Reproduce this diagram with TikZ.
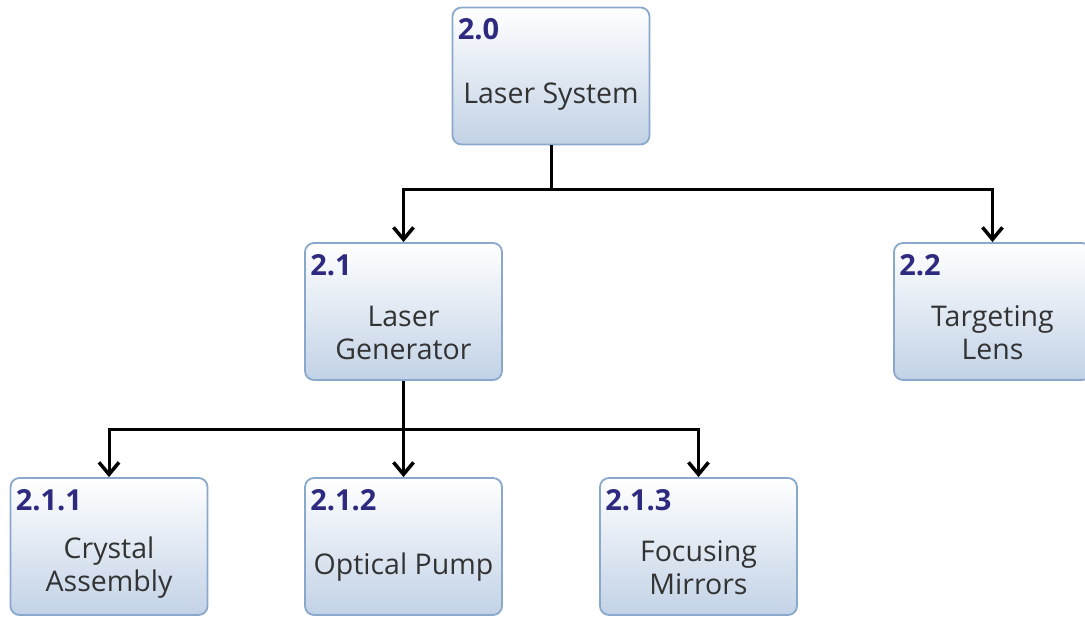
\documentclass[tikz,border=0pt]{standalone}
\usepackage{fontspec}
\setmainfont{Open Sans}
\usetikzlibrary{arrows.meta,calc}
\definecolor{idblue}{HTML}{2E2A80}
\definecolor{boxborder}{HTML}{8AA8CC}
\definecolor{boxbottom}{HTML}{C2D2E6}
\definecolor{txt}{HTML}{333333}
\tikzset{
  wbs/.style={draw=boxborder, line width=1.8pt, rounded corners=9pt,
    top color=white, bottom color=boxbottom,
    minimum width=197pt, minimum height=137pt, inner sep=0pt},
  idtext/.style={anchor=base west, text=idblue, inner sep=0pt,
    font=\fontsize{29}{32}\selectfont\bfseries},
  lbl/.style={text=txt, align=center, inner sep=0pt,
    font=\fontsize{28.5}{33}\selectfont},
  link/.style={line width=3pt, draw=black},
  conn/.style={link, -{Straight Barb[length=12pt,width=20pt,line width=3.5pt]}}
}
\newcommand{\wbsbox}[5]{% name, x, y, id, label
  \node[wbs] (#1) at (#2,#3) {};
  \node[idtext] (#1id) at ($(#1.north west)+(6,33)$) {#4};
  \node[lbl] (#1lbl) at ($(#1.center)+(0,21)$) {#5};
}
\begin{document}
\begin{tikzpicture}[x=1pt,y=-1pt]
\useasboundingbox (0,0) rectangle (1085,617);
\wbsbox{n20}{551}{76}{2.0}{Laser System}
\wbsbox{n21}{403.5}{311.5}{2.1}{Laser\\Generator}
\wbsbox{n22}{992.5}{311.5}{2.2}{Targeting\\Lens}
\wbsbox{n211}{109}{546.5}{2.1.1}{Crystal\\Assembly}
\wbsbox{n212}{403.5}{546.5}{2.1.2}{Optical Pump}
\wbsbox{n213}{698.5}{546.5}{2.1.3}{Focusing\\Mirrors}
\coordinate (j1) at (551,190);
\coordinate (j2) at (403.5,430);
\draw[link] (n20.south) -- (j1);
\draw[conn] (j1) -| (n21.north);
\draw[conn] (j1) -| (n22.north);
\draw[link] (n21.south) -- (j2);
\draw[conn] (j2) -| (n211.north);
\draw[conn] (j2) -- (n212.north);
\draw[conn] (j2) -| (n213.north);
\end{tikzpicture}
\end{document}
